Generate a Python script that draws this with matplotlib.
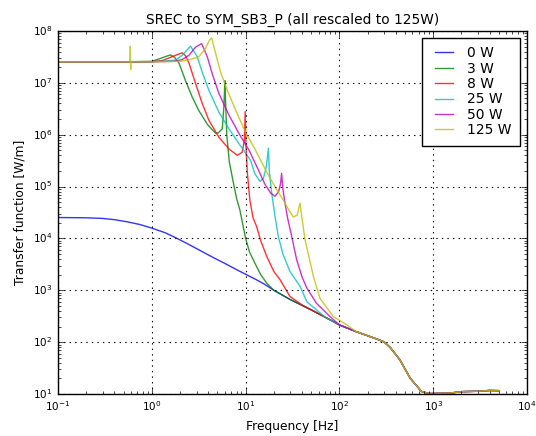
import numpy as np
import matplotlib
matplotlib.use("Agg")
import matplotlib.pyplot as plt

# shared high-frequency part (all curves overlap there)
tail_f = [20, 30, 50, 70, 100, 150, 200, 250, 300, 350, 440, 570, 750, 900, 1000, 1500, 2000, 3000, 4000, 5000]
tail_v = [1000, 660, 420, 305, 215, 160, 133, 115, 101, 78, 46, 20, 11.2, 10.2, 10.0, 10.4, 11.1, 11.3, 11.7, 11.6]

f_0w = [0.1, 0.2, 0.3, 0.4, 0.54, 0.75, 1.0, 1.4, 1.84, 2.5, 3.3, 4.5, 6.0, 8.0, 10.2, 13.0, 16.0]
v_0w = [2.53e4, 2.5e4, 2.43e4, 2.3e4, 2.1e4, 1.85e4, 1.58e4, 1.28e4, 1.01e4, 7.6e3, 5.8e3, 4.3e3, 3.3e3, 2.5e3, 2.0e3, 1.6e3, 1.3e3]

f_3w = [0.1, 0.5, 1.0, 1.2, 1.46, 1.58, 1.75, 1.95, 2.29, 2.7, 3.18, 3.9, 4.4, 4.79, 5.1, 5.64, 5.87, 6.02, 6.1, 6.3, 6.7, 7.4, 8.0, 8.7, 10.0, 11.0, 12.6, 14.5, 16.8]
v_3w = [2.55e7, 2.55e7, 2.6e7, 2.9e7, 3.3e7, 3.45e7, 3.1e7, 2.4e7, 1.1e7, 5.3e6, 2.9e6, 1.6e6, 1.25e6, 1.07e6, 1.08e6, 1.3e6, 3.5e6, 1.1e7, 5e6, 1e6, 3e5, 1.2e5, 6e4, 3.5e4, 1.0e4, 5.5e3, 3.3e3, 2e3, 1.37e3]

f_8w = [0.1, 0.5, 1.0, 1.3, 1.79, 2.11, 2.3, 2.49, 2.93, 3.45, 4.06, 5.2, 6.64, 8.15, 9.2, 9.7, 9.9, 10.1, 10.4, 11.1, 12.0, 13.1, 14.5, 16.8, 20.0, 23.3, 29.7, 40]
v_8w = [2.55e7, 2.55e7, 2.55e7, 2.7e7, 3.4e7, 3.8e7, 3.3e7, 2.4e7, 9.7e6, 4e6, 1.9e6, 8.9e5, 5.3e5, 4e5, 4.6e5, 7.8e5, 2.8e6, 6e5, 2e5, 5.5e4, 2.5e4, 1.7e4, 9e3, 4.5e3, 2.3e3, 1.6e3, 760, 520]

f_25w = [0.1, 0.5, 1.0, 1.5, 1.79, 2.11, 2.59, 3.05, 3.45, 4.06, 5.2, 6.64, 8.5, 11.3, 12.5, 14.2, 15.5, 16.6, 17.5, 17.9, 19.0, 20.5, 22.3, 25.0, 29.7, 38, 45]
v_25w = [2.55e7, 2.55e7, 2.55e7, 2.65e7, 2.75e7, 3.4e7, 5.1e7, 3.2e7, 1.6e7, 7.2e6, 2.7e6, 1.3e6, 6.7e5, 3.2e5, 1.8e5, 1.26e5, 1.45e5, 2.4e5, 5.5e5, 2e5, 7.4e4, 2.8e4, 1.1e4, 5e3, 2.3e3, 1.2e3, 600]

f_50w = [0.1, 0.5, 1.0, 1.7, 2.1, 2.49, 2.93, 3.4, 3.9, 4.41, 5.2, 6.64, 8.5, 10.9, 13.5, 16.1, 18.5, 20.6, 22.5, 23.6, 24.2, 25.0, 26.3, 28.0, 31, 35, 40, 45, 57, 79]
v_50w = [2.55e7, 2.55e7, 2.55e7, 2.6e7, 2.8e7, 3.4e7, 4.9e7, 5.7e7, 3.2e7, 1.5e7, 6.2e6, 2.4e6, 1.05e6, 5e5, 2.2e5, 1.1e5, 7.5e4, 6.5e4, 8e4, 1.15e5, 1.8e5, 9e4, 4.8e4, 2.5e4, 1.1e4, 3.9e3, 1.8e3, 1.1e3, 560, 313]

f_125w = [0.1, 0.5, 0.585, 0.59, 0.595, 0.6, 1.0, 2.0, 2.29, 2.7, 3.18, 3.75, 4.1, 4.34, 4.79, 5.41, 6.38, 7.82, 10.0, 12.3, 16.8, 20.5, 25.2, 29.0, 32.3, 35.5, 38, 40, 43, 48, 53, 62, 86, 120]
v_125w = [2.55e7, 2.55e7, 2.55e7, 5.1e7, 1.8e7, 2.55e7, 2.55e7, 2.6e7, 2.7e7, 2.9e7, 3.2e7, 4.6e7, 6.6e7, 7.4e7, 3.7e7, 1.6e7, 7.2e6, 3e6, 1.1e6, 5.7e5, 1.9e5, 1e5, 5.5e4, 3.5e4, 2.6e4, 2.8e4, 4.8e4, 2.4e4, 9.4e3, 4.0e3, 1.8e3, 700, 313, 216]

labels = ["0 W", "3 W", "8 W", "25 W", "50 W", "125 W"]
series = [(f_0w, v_0w), (f_3w, v_3w), (f_8w, v_8w), (f_25w, v_25w), (f_50w, v_50w), (f_125w, v_125w)]

plt.style.use("classic")
plt.rcParams["mathtext.fontset"] = "dejavusans"
plt.rcParams["mathtext.default"] = "regular"

fig = plt.figure(figsize=(5.36, 4.36), dpi=100)
ax = fig.add_axes([58 / 536, 1 - 394 / 436, 469 / 536, 363 / 436])

colors = ["b", "g", "r", "c", "m", "y"]
for (f, v), lab, col in zip(series, labels, colors):
    f = list(f)
    v = list(v)
    for tf, tv in zip(tail_f, tail_v):
        if tf > f[-1] * 1.15:
            f.append(tf)
            v.append(tv)
    ax.loglog(f, v, color=col, label=lab, lw=1.0, alpha=0.8)

ax.set_xlim(0.1, 1e4)
ax.set_ylim(10, 1e8)
ax.grid(True, which="major", linestyle=":", color="k", lw=0.8)
ax.tick_params(labelsize=7.5)
ax.tick_params(which="major", length=4)
ax.tick_params(which="minor", length=2)
ax.set_xlabel("Frequency [Hz]", fontsize=8.8)
ax.set_ylabel("Transfer function [W/m]", fontsize=8.8)
ax.set_title("SREC to SYM_SB3_P (all rescaled to 125W)", fontsize=9.9)
ax.legend(loc="upper right", fontsize=10, borderaxespad=0.5, labelspacing=0.1,
          handlelength=1.9, handletextpad=0.75, borderpad=0.6)

fig.savefig("out.png", dpi=100)
